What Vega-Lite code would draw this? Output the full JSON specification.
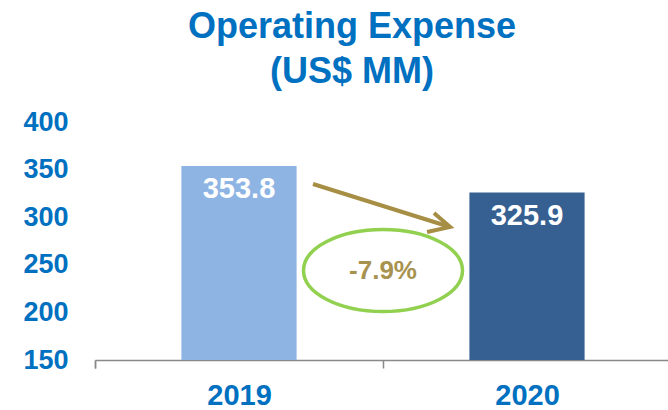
{
  "$schema": "https://vega.github.io/schema/vega-lite/v6.json",
  "width": 576,
  "height": 238,
  "autosize": {"type": "none"},
  "padding": {"left": 95, "top": 122, "right": 0, "bottom": 50},
  "background": "white",
  "title": {
    "text": ["Operating Expense", "(US$ MM)"],
    "font": "Liberation Sans",
    "fontSize": 36,
    "fontWeight": "bold",
    "color": "#0070C0",
    "anchor": "middle",
    "frame": "group",
    "dx": -31,
    "lineHeight": 45,
    "offset": 17
  },
  "config": {
    "view": {"stroke": null},
    "font": "Liberation Sans",
    "axis": {"title": null}
  },
  "layer": [
    {
      "data": {"values": [
        {"year": "2019", "value": 353.8},
        {"year": "2020", "value": 325.9}
      ]},
      "encoding": {
        "x": {
          "field": "year", "type": "nominal",
          "scale": {"paddingInner": 0.6, "paddingOuter": 0.3},
          "axis": {
            "title": null, "labelAngle": 0, "labelFontSize": 29, "labelFontWeight": "bold",
            "labelColor": "#0070C0", "labelPadding": 13, "labelAlign": "center", "labelOffset": 86.4,
            "ticks": true, "tickSize": 8,
            "bandPosition": 0, "tickOffset": -86.4, "tickExtra": true,
            "domainColor": "#898989", "tickColor": "#898989", "domainWidth": 1.5, "tickWidth": 1.5,
            "grid": false
          }
        },
        "y": {
          "field": "value", "type": "quantitative",
          "scale": {"domain": [150, 400], "nice": false, "zero": false},
          "axis": {
            "title": null, "values": [150, 200, 250, 300, 350, 400], "grid": false, "domain": false,
            "ticks": false, "labelFontSize": 27, "labelFontWeight": "bold", "labelColor": "#0070C0",
            "labelPadding": 27
          }
        }
      },
      "layer": [
        {
          "mark": {"type": "bar"},
          "encoding": {
            "y2": {"datum": 150},
            "color": {"field": "year", "type": "nominal", "scale": {"range": ["#8EB4E3", "#366092"]}, "legend": null}
          }
        },
        {
          "mark": {"type": "text", "baseline": "top", "dy": 9, "fontSize": 29, "fontWeight": "bold", "color": "white"},
          "encoding": {"text": {"field": "value", "type": "quantitative", "format": ".1f"}}
        }
      ]
    },
    {
      "data": {"values": [
        {"seg": "a", "ord": 1, "ax": 0.757, "value": 334.9},
        {"seg": "a", "ord": 2, "ax": 1.233, "value": 289.7},
        {"seg": "b", "ord": 1, "ax": 1.177, "value": 304.4},
        {"seg": "b", "ord": 2, "ax": 1.233, "value": 289.7},
        {"seg": "b", "ord": 3, "ax": 1.153, "value": 284.5}
      ]},
      "mark": {"type": "line", "color": "#A68F45", "strokeWidth": 4, "strokeJoin": "miter"},
      "encoding": {
        "x": {"field": "ax", "type": "quantitative", "scale": {"domain": [0, 2], "nice": false, "zero": false}, "axis": null},
        "y": {"field": "value", "type": "quantitative", "title": null},
        "detail": {"field": "seg"},
        "order": {"field": "ord"}
      }
    },
    {
      "data": {"values": [{"ax": 1.0, "value": 244.0, "label": "-7.9%"}]},
      "layer": [
        {
          "mark": {"type": "point", "shape": "M-1,0A1,0.516,0,1,1,1,0A1,0.516,0,1,1,-1,0Z", "size": 25281, "filled": false, "stroke": "#92D050", "strokeWidth": 3.5, "opacity": 1},
          "encoding": {
            "x": {"field": "ax", "type": "quantitative", "scale": {"domain": [0, 2], "nice": false, "zero": false}, "axis": null},
            "y": {"field": "value", "type": "quantitative", "title": null}
          }
        },
        {
          "mark": {"type": "text", "fontSize": 26, "fontWeight": "bold", "color": "#A8924F", "baseline": "middle"},
          "encoding": {
            "x": {"field": "ax", "type": "quantitative", "scale": {"domain": [0, 2], "nice": false, "zero": false}, "axis": null},
            "y": {"field": "value", "type": "quantitative", "title": null},
            "text": {"field": "label"}
          }
        }
      ]
    }
  ],
  "resolve": {"scale": {"x": "independent"}, "axis": {"x": "independent"}}
}
